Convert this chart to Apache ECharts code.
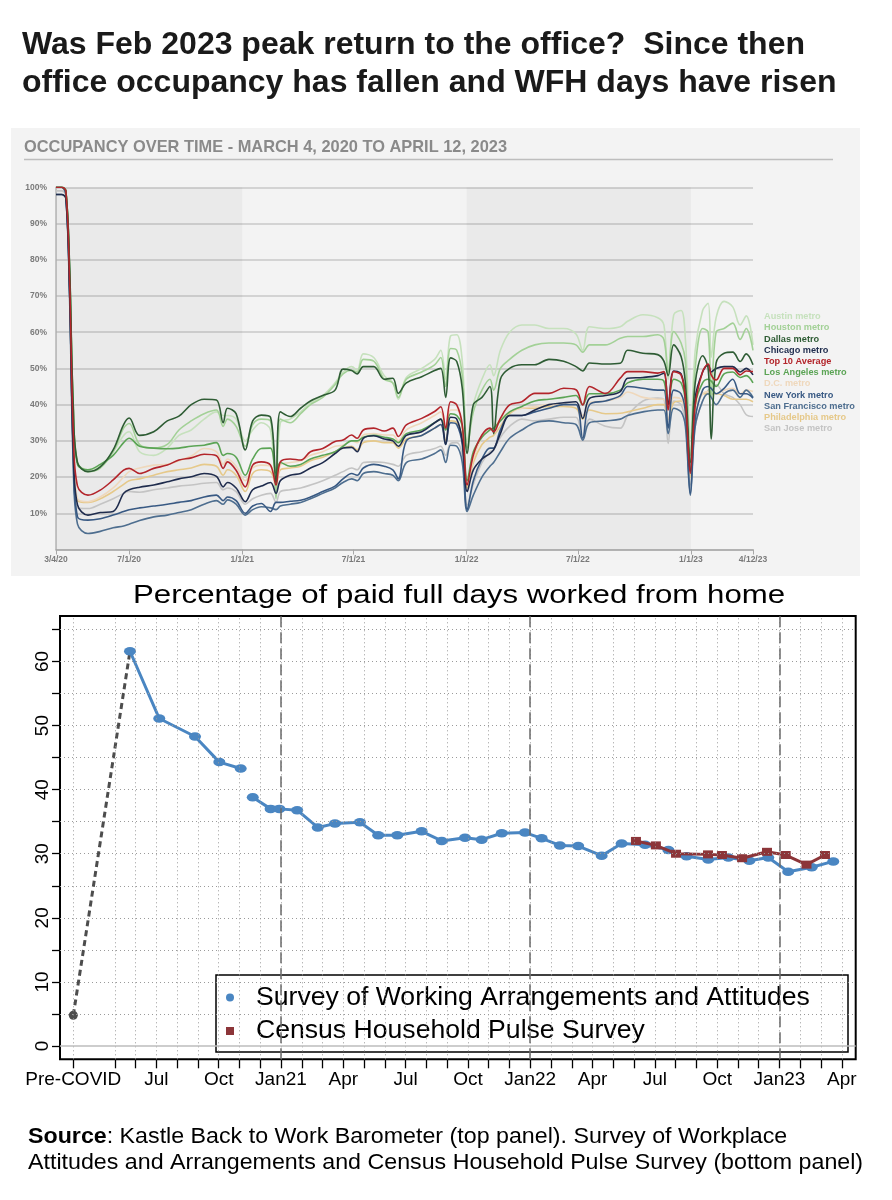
<!DOCTYPE html>
<html>
<head>
<meta charset="utf-8">
<script src="https://cdn.jsdelivr.net/npm/echarts@6/dist/echarts.min.js"></script>
<style>
html,body{margin:0;padding:0;background:#fff;}
#c{width:892px;height:1200px;}
</style>
</head>
<body>
<div id="c"></div>
<script>
// ---------------- TOP PANEL DATA (Kastle occupancy, % of pre-COVID) ----------------
const topDates = [
'2020-03-04','2020-03-13','2020-03-20','2020-03-26','2020-04-01','2020-04-08','2020-04-25','2020-05-15','2020-06-05','2020-06-22',
'2020-07-01','2020-07-18','2020-08-10','2020-09-01','2020-09-20','2020-10-10','2020-10-31','2020-11-20','2020-12-01','2020-12-08',
'2020-12-22','2021-01-06','2021-01-18','2021-02-01','2021-02-16','2021-02-25','2021-03-04','2021-03-20','2021-04-06','2021-04-22',
'2021-05-12','2021-06-01','2021-06-14','2021-06-28','2021-07-07','2021-07-17','2021-08-03','2021-08-20','2021-09-03','2021-09-12',
'2021-09-25','2021-10-20','2021-11-10','2021-11-20','2021-11-28','2021-12-06','2021-12-16','2021-12-25','2022-01-02','2022-01-12',
'2022-01-26','2022-02-08','2022-02-14','2022-02-25','2022-03-12','2022-04-01','2022-04-22','2022-05-15','2022-06-08','2022-06-28',
'2022-07-09','2022-07-20','2022-08-15','2022-09-08','2022-09-20','2022-10-15','2022-11-08','2022-11-18','2022-11-25','2022-12-04',
'2022-12-16','2022-12-23','2022-12-31','2023-01-08','2023-01-20','2023-01-29','2023-02-03','2023-02-11','2023-02-24','2023-03-10',
'2023-03-22','2023-04-01','2023-04-12'];

const austin = [100,100,99,78,40,24,22,23,27,31.5, 32.5,27,26,28,31.5,33,36,38,37,37, 36,30,33,35,33,15,35,36,38,40.5,
 42.5,46,49,50.5,49.5,54,53,48,46,41.5, 47.5,50,52.5,55,47,59,59.3,52,30,40, 47,51,48,55,60,62,62,61,61,59.5,
 55,61.5,61,61.5,63,64.8,64,62,47,64.8, 66,58,30.7,55,66,68,53,64,68.5,67, 62,64.5,56.5];
const houston = [100,100,99,78,40,24,21.5,22.5,27,33.5, 34.8,29,28,29,33,35.5,37.5,38.5,34,36, 34,28.5,34.5,36,35.5,14,36,35,37.5,40,
 42,45.5,48.5,49.5,49,52.5,52,47,46,42, 47,49,51,53,45,55.5,55,48,28,38, 44,47,44,50,52.5,55,56.5,57,57,56.5,
 54.5,56.5,56.5,58.3,58.8,58.8,59.3,58,49,60.2, 57,52,26,50,61,60,42,60,61,62.5, 58,61,55];
const dallas = [100,100,99,79,40,24,21.5,22.8,27.5,34.5, 36.3,31.5,32.5,35.5,36.8,40.0,41.5,41.3,35.0,39.0, 37.5,27.5,35.5,37.1,36.5,18.0,38.0,36.7,39.0,41.0,
 42.5,44.0,49.8,49.4,48.5,50.5,50.5,47.0,47.3,43.1, 46.0,47.7,49.4,50.0,42.0,52.9,51.9,44.5,26.5,40.0, 42.0,45.0,32.0,47.0,50.0,51.0,51.0,52.5,52.0,50.5,
 49.3,51.5,51.2,51.4,55.0,54.2,53.8,52.0,48.0,56.5, 53.3,46.0,24.0,46.0,53.5,50.0,30.5,51.5,54.2,54.5, 51.9,54.0,51.0];
const chicago = [98,98,97,72,28,12.3,9.5,10.2,10.5,15.5, 16.5,17.2,17.8,18.7,19.5,20.1,21,20.2,17.3,18.5, 17,13.2,16.5,17.5,18.5,15.5,19,20.5,21,22.5,
 24,26.5,28,28.2,27,30.7,31.4,30.5,30,28.5, 31.5,32.5,35,36,29,36.5,36,30,16,22, 25,26.5,27.5,32,37,37,38.5,40,40.5,40.8,
 36.2,41.7,42.5,43.6,47.3,47.5,48,48.7,40,49.3, 48.5,42,21.5,42,49,51,49,50,50.5,50.5, 49,50,48.2];
const top10 = [100,100,99,75,33,17.5,15.0,16.4,19.2,21.9, 22.4,21.0,22.4,23.3,24.7,25.3,26.3,25.9,22.4,24.2, 21.9,17.3,23.3,24.2,23.3,17.8,24.2,25.0,24.7,27.0,
 27.9,29.8,30.2,31.6,30.7,33.0,33.5,32.7,33.5,31.2, 34.4,36.2,38.1,39.4,33.5,40.8,39.9,34.4,17.8,26.1, 31.6,33.5,32.5,36.2,39.9,40.8,43.1,43.1,44.5,44.1,
 39.9,45.0,43.1,47.3,49.1,49.1,48.7,49.1,38.5,49.1, 48.2,41.7,21.0,39.9,49.1,51.2,48.2,46.8,50.0,50.0, 48.2,49.3,49.1];
const losAngeles = [100,100,99,78,39,23.5,22,23.5,26,29.5, 30.7,28.5,28,27.8,28,28.5,28.8,29.5,26,26.5, 25.5,20.5,25,27.9,28,21,24,23,23.5,25,
 26,27,28.5,30,30,31,31.5,31,30.5,29.5, 32,33,35,36,33,37.5,37,34,19,27, 31,33,33.5,35.5,38,39.5,41,41.5,42,42.5,
 40,43,43,44,46,47,47,46.5,40,47, 46,41,22,40,46,47,46.5,45,48.5,49, 47.5,48,46];
const dc = [100,100,99,75,31,14,13.2,14.5,17,20, 21.5,22.5,23.3,23.5,24.5,25.8,27.9,27,23.5,25, 23,19,22.5,23.3,23,16,23.3,24,24.5,26,
 27,28.5,28.8,30,29.5,31.6,32,31.6,31.6,30, 33,35,37,38,33,38.5,38.5,34,18,25, 31,33,33.5,36,38,39,39.5,40,40,40,
 37,40.5,41,42,43.5,42,41.5,41.5,36,42, 41.5,38,21,38,43,43.6,43,43,44,44.5, 43,44,43.6];
const newYork = [100,100,98,72,27,9,8.1,8.5,9.5,10.5, 11,11.5,12,12.5,13,13.5,14.5,15,13.5,14.5, 13.5,10,12,12.7,10.5,13,13,13.3,13.6,14.5,
 16,17.5,19.5,21,20.5,22.5,23.5,23,22,19.5, 30,31.5,33.5,34.5,29,35,34.5,29,11,19, 25,28,28,33,37,37,38,39,40,40,
 30.7,40,41,42.5,45,44.5,44,44,33.5,44, 43,38,15.5,36,44,45,44.5,43,44.5,47, 43,43,41.8];
const sanFrancisco = [98,98,97,70,24,7,4.4,5,6,6.5, 7,8,9,9.5,10.2,11,12.5,13.5,12.5,13.7, 12.5,9.5,11,11.8,11.5,11,12,12.5,13,14,
 15.5,17,18.5,19.5,19,21,21.5,21,20.5,19, 24,25,26.5,27.5,24,28.8,28.5,24,10.5,15, 20,23,24,27,30.7,33,35,35.5,35,34.5,
 30.2,35,35.5,36,37,38,38.5,38.5,32,39, 38,34,15,34,41,43,42,40,43,44, 42,44,42];
const philadelphia = [100,100,99,74,30,13.5,13,14,16,18, 19,19.5,20.5,21.5,22,22.5,23.5,23,20.5,22, 20.5,16,21,22,21.5,18,22,22.5,23,24.5,
 25.5,27,28,28.5,27.5,29.5,30,29.5,29.5,28, 30.5,31.5,33.5,34.5,30,35.5,35,31,17,24, 29,31,31.5,34,37.5,39,39,39.5,39.5,39,
 36,38.5,37.5,37.6,38,39,40,40,36,40.5, 41,38,20,37,43,43,43,43,42.5,41.5, 41.5,41.5,40.8];
const sanJose = [99,99,98,72,29,11.5,11.3,12.5,14,15.5, 16,15.8,16.5,17,17.5,17.8,18.3,18.5,16.5,17, 16,12.5,14,15,15.5,13,16,16.5,17,17.8,
 19,20.5,21.5,22.5,22,24,24.2,24,23.5,23, 26,27,27.9,28.5,26,29.3,29.5,26,12.3,18, 24,27,27.5,31,34,36,35.5,36,36.5,36.5,
 30.5,36,34,33.5,37,41,41.8,41.5,29.3,41, 40,35,17.8,34,41,44,44.5,45.5,43,42, 40,37.2,36.7];

const metroNames  = ['Austin metro','Houston metro','Dallas metro','Chicago metro','Top 10 Average','Los Angeles metro','D.C. metro','New York metro','San Francisco metro','Philadelphia metro','San Jose metro'];
const metroValues = [austin, houston, dallas, chicago, top10, losAngeles, dc, newYork, sanFrancisco, philadelphia, sanJose];
const metroColors = ['#c6e1bd','#a3d197','#2e5c34','#1f2c4d','#b3252b','#5ba455','#efd8bc','#385983','#4e6e8f','#e6c98a','#c4c4c4'];
const drawOrder   = [10, 9, 6, 0, 1, 8, 7, 5, 3, 2, 4]; // indices into metro arrays, back to front
const topTickDates = ['2020-03-04','2020-07-01','2021-01-01','2021-07-01','2022-01-01','2022-07-01','2023-01-01','2023-04-12'];
const yearBands = [['2020-03-04','2021-01-01'],['2022-01-01','2023-01-01']];

// ---------------- BOTTOM PANEL DATA (% of paid full days WFH) ----------------
// x = months since March 2020 (0 = Pre-COVID position)
const swaaMonths = [2.73,4.14,5.86,7.03,8.06, 8.64,9.5,9.92,10.78,11.77, 12.6,13.8,14.68,15.6,16.77, 17.74,18.86,19.66,20.63,21.75,
  22.55,23.43,24.31,25.44,26.4, 27.53,28.65,29.53,30.57,31.54, 32.55,33.46,34.42,35.55,36.59];
const swaaValues = [61.6,51.1,48.3,44.3,43.3, 38.8,37.0,37.0,36.8,34.1, 34.7,34.9,32.9,32.9,33.5, 32.0,32.5,32.2,33.2,33.3,
  32.4,31.3,31.2,29.7,31.6, 31.4,30.6,29.6,29.1,29.4, 28.9,29.4,27.2,27.9,28.8];
const swaaBreak = 5; // line is broken between the 5th and 6th wave
const censusMonths = [27.09,28.05,29.02,30.56,31.23,32.2,33.4,34.3,35.3,36.19];
const censusValues = [32.0,31.3,30.0,29.9,29.8,29.3,30.3,29.8,28.3,29.8];
const preCovid = [0, 4.8];
const xTickMonths = [0,2,3,4,5,6,7,8,9,10,11,12,13,14,15,16,17,18,19,20,21,22,23,24,25,26,27,28,29,30,31,32,33,34,35,36,37];
const xLabelMonths = [0,4,7,10,13,16,19,22,25,28,31,34,37];
const xLabelTexts = ['Pre-COVID','Jul','Oct','Jan21','Apr','Jul','Oct','Jan22','Apr','Jul','Oct','Jan23','Apr'];
const yearStartMonths = [10,22,34];
const yTicks = [0,5,10,15,20,25,30,35,40,45,50,55,60,65];
const yLabels = [0,10,20,30,40,50,60];

// ---------------- BUILD ----------------
const FONT = '"Liberation Sans", Arial, Helvetica, sans-serif';
const ts = s => Date.parse(s);
const chart = echarts.init(document.getElementById('c'), null, {renderer:'canvas', width:892, height:1200});

const topSeries = drawOrder.map(i => ({
  name: metroNames[i], type:'line', xAxisIndex:0, yAxisIndex:0,
  data: topDates.map((d,k) => [ts(d), metroValues[i][k]]),
  showSymbol:false, symbol:'none', smooth:0.35,
  lineStyle:{color:metroColors[i], width:1.6}, itemStyle:{color:metroColors[i]},
  z: 2, silent:true
}));

const bandSeries = {
  name:'bands', type:'line', xAxisIndex:0, yAxisIndex:0, data:[], z:1, silent:true,
  markArea:{silent:true, itemStyle:{color:'rgba(0,0,0,0.035)'},
    data: yearBands.map(b => [{xAxis:ts(b[0])},{xAxis:ts(b[1])}])}
};

const gridLines = [];
xTickMonths.forEach(m => gridLines.push({xAxis:m, lineStyle:{type:[1,3], color:'#9a9a9a', width:1}}));
yTicks.filter(v => v>0).forEach(v => gridLines.push({yAxis:v, lineStyle:{type:[1,3], color:'#9a9a9a', width:1}}));
gridLines.push({yAxis:0, lineStyle:{type:'solid', color:'#bdbdbd', width:1.5}});
yearStartMonths.forEach(m => gridLines.push({xAxis:m, lineStyle:{type:[11,5], color:'#6a6a6a', width:1.5}}));

const swaaData = swaaMonths.map((m,i)=>[m, swaaValues[i]]);
const SWAA = 'Survey of Working Arrangements and Attitudes';
const CENSUS = 'Census Household Pulse Survey';

const bottomSeries = [
  { name:'pre', type:'line', xAxisIndex:1, yAxisIndex:1, z:1, silent:true, symbol:'circle', symbolSize:9, showAllSymbol:true,
    data:[{value:preCovid}, {value:swaaData[0], symbol:'none'}],
    lineStyle:{color:'#4d4d4d', width:3, type:[6,4]}, itemStyle:{color:'#4d4d4d', borderWidth:0},
    markLine:{silent:true, symbol:['none','none'], label:{show:false}, animation:false, data:gridLines} },
  { name:SWAA, type:'line', xAxisIndex:1, yAxisIndex:1, z:3, silent:true,
    data: swaaData.slice(0, swaaBreak), symbol:'circle', symbolSize:[12,8.5], showAllSymbol:true,
    lineStyle:{color:'#4a86c2', width:3}, itemStyle:{color:'#4a86c2', borderWidth:0} },
  { name:SWAA, type:'line', xAxisIndex:1, yAxisIndex:1, z:3, silent:true,
    data: swaaData.slice(swaaBreak), symbol:'circle', symbolSize:[12,8.5], showAllSymbol:true,
    lineStyle:{color:'#4a86c2', width:3}, itemStyle:{color:'#4a86c2', borderWidth:0} },
  { name:CENSUS, type:'line', xAxisIndex:1, yAxisIndex:1, z:4, silent:true,
    data: censusMonths.map((m,i)=>[m, censusValues[i]]), symbol:'rect', symbolSize:[10,8], showAllSymbol:true,
    lineStyle:{color:'#8c3539', width:3}, itemStyle:{color:'#8c3539', borderWidth:0} }
];

const fmtDate = v => { const d = new Date(v); return (d.getUTCMonth()+1)+'/'+d.getUTCDate()+'/'+String(d.getUTCFullYear()).slice(2); };

const option = {
  animation:false,
  backgroundColor:'#ffffff',
  graphic:[
    {type:'rect', z:-10, shape:{x:11,y:128,width:849,height:448}, style:{fill:'#f3f3f3'}},
    {type:'line', z:1, shape:{x1:24,y1:159.5,x2:833,y2:159.5}, style:{stroke:'#bdbdbd', lineWidth:1.5}},
    {type:'text', x:22, y:45, style:{text:'Was Feb 2023 peak return to the office?  Since then', fontFamily:FONT, fontWeight:'bold', fontSize:32, fill:'#1a1a1a', verticalAlign:'middle'}},
    {type:'text', x:22, y:83, style:{text:'office occupancy has fallen and WFH days have risen', fontFamily:FONT, fontWeight:'bold', fontSize:32, fill:'#1a1a1a', verticalAlign:'middle'}},
    {type:'text', x:24, y:147.5, style:{text:'OCCUPANCY OVER TIME - MARCH 4, 2020 TO APRIL 12, 2023', fontFamily:FONT, fontWeight:'bold', fontSize:16.4, fill:'#8a8a8a', verticalAlign:'middle'}},
    {type:'text', x:133, y:596, scaleX:1.2, style:{text:'Percentage of paid full days worked from home', fontFamily:FONT, fontSize:26, fill:'#000', verticalAlign:'middle'}},
    {type:'rect', z:3, shape:{x:216,y:975,width:632,height:77}, style:{fill:'#fff', stroke:'#000', lineWidth:1.5}},
    {type:'text', x:28, y:1137, scaleX:1.08, style:{text:'{b|Source}: Kastle Back to Work Barometer (top panel). Survey of Workplace', rich:{b:{fontWeight:'bold', fontFamily:FONT, fontSize:21.5, fill:'#000'}}, fontFamily:FONT, fontSize:21.5, fill:'#000', verticalAlign:'middle'}},
    {type:'text', x:28, y:1163, scaleX:1.08, style:{text:'Attitudes and Arrangements and Census Household Pulse Survey (bottom panel)', fontFamily:FONT, fontSize:21.5, fill:'#000', verticalAlign:'middle'}}
  ],
  legend:[
    { orient:'vertical', left:754, top:306, itemGap:0, itemWidth:0, itemHeight:11.2, icon:'rect',
      itemStyle:{opacity:0}, lineStyle:{opacity:0}, selectedMode:false,
      textStyle:{fontFamily:FONT, fontWeight:'bold', fontSize:9.2, padding:0},
      data: metroNames.map((n,i)=>({name:n, textStyle:{color:metroColors[i]}})) },
    { orient:'vertical', left:226, top:984, padding:0, itemGap:6.5, itemWidth:8, itemHeight:8, selectedMode:false, z:5,
      formatter: n => '{s|}' + n,
      textStyle:{fontFamily:FONT, fontSize:26.6, color:'#000', rich:{s:{width:17}}},
      data:[{name:SWAA, icon:'circle'},{name:CENSUS, icon:'rect'}] }
  ],
  grid:[
    {left:56, top:187.3, width:697, height:362.2, show:false},
    {left:60, top:616, width:795.7, height:443.3, show:true, borderColor:'#000', borderWidth:2, backgroundColor:'transparent'}
  ],
  xAxis:[
    { type:'value', gridIndex:0, min:ts(topDates[0]), max:ts(topDates[topDates.length-1]),
      axisLine:{show:true, onZero:false, lineStyle:{color:'#a8a8a8', width:1.5}},
      axisTick:{show:true, length:5, customValues:topTickDates.map(ts), lineStyle:{color:'#a8a8a8'}},
      axisLabel:{customValues:topTickDates.map(ts), formatter:fmtDate, fontFamily:FONT, fontWeight:'bold', fontSize:8.5, color:'#7a7a7a', margin:6},
      splitLine:{show:false} },
    { type:'value', gridIndex:1, min:-0.64, max:37.67,
      axisLine:{show:false, onZero:false},
      axisTick:{show:true, length:9, customValues:xTickMonths, lineStyle:{color:'#000', width:1.3}},
      axisLabel:{customValues:xLabelMonths, formatter:v => xLabelTexts[xLabelMonths.indexOf(Math.round(v))] || '', fontFamily:FONT, fontSize:19, color:'#000', margin:11},
      splitLine:{show:false} }
  ],
  yAxis:[
    { type:'value', gridIndex:0, min:0, max:100, interval:10,
      axisLine:{show:true, onZero:false, lineStyle:{color:'#b5b5b5', width:1.5}},
      axisTick:{show:false},
      axisLabel:{formatter:v => v===0 ? '' : v+'%', fontFamily:FONT, fontWeight:'bold', fontSize:8.5, color:'#7a7a7a', margin:9},
      splitLine:{show:true, lineStyle:{color:'#c9c9c9', width:1.5}} },
    { type:'value', gridIndex:1, min:-2.08, max:67.1,
      axisLine:{show:false, onZero:false},
      axisTick:{show:true, length:8, customValues:yTicks, lineStyle:{color:'#000', width:1.3}},
      axisLabel:{customValues:yLabels, rotate:90, fontFamily:FONT, fontSize:19, color:'#000', margin:8},
      splitLine:{show:false} }
  ],
  series:[bandSeries].concat(topSeries, bottomSeries)
};
chart.setOption(option);
</script>
</body>
</html>
